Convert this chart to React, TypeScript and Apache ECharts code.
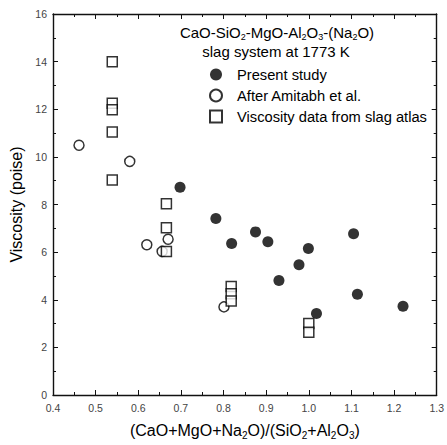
import React, { useEffect, useRef } from "react";
import * as echarts from "echarts";

const FONT = "'Liberation Sans', Arial, sans-serif";

// Present study (filled circles): [ratio, viscosity]
const presentStudy: [number, number][] = [
  [0.698, 8.72], [0.782, 7.41], [0.819, 6.36], [0.875, 6.85], [0.904, 6.44],
  [0.930, 4.81], [0.977, 5.47], [0.999, 6.15], [1.018, 3.42], [1.105, 6.77],
  [1.114, 4.23], [1.221, 3.73],
];
// After Amitabh et al. (open circles)
const amitabh: [number, number][] = [
  [0.461, 10.49], [0.580, 9.81], [0.620, 6.31], [0.670, 6.54], [0.656, 6.03], [0.801, 3.70],
];
// Viscosity data from slag atlas (open squares)
const slagAtlas: [number, number][] = [
  [0.539, 14.0], [0.539, 12.25], [0.539, 11.98], [0.539, 11.04], [0.539, 9.03],
  [0.666, 8.03], [0.666, 7.02], [0.666, 6.03],
  [0.818, 4.56], [0.818, 4.25], [0.818, 3.95],
  [1.0, 3.0], [1.0, 2.63],
];

const seriesNames = ["Present study", "After Amitabh et al.", "Viscosity data from slag atlas"];
const titleLine1 = "CaO-SiO{sub|2}-MgO-Al{sub|2}O{sub|3}-(Na{sub|2}O)";
const titleLine2 = "slag system at 1773 K";
const xName = "(CaO+MgO+Na{sub|2}O)/(SiO{sub|2}+Al{sub|2}O{sub|3})";
const yName = "Viscosity (poise)";

export default function App() {
  const ref = useRef<HTMLDivElement>(null);
  useEffect(() => {
    document.body.style.margin = "0";
    const chart = echarts.init(ref.current!, null, { renderer: "svg" });
    const axisCommon = {
      axisLine: { show: true, onZero: false, lineStyle: { color: "#111", width: 1.4 } },
      axisTick: { show: true, inside: true, length: 5, lineStyle: { color: "#111", width: 1 } },
      minorTick: { show: true, splitNumber: 2, length: 3, lineStyle: { color: "#111", width: 1 } },
      splitLine: { show: false },
    };
    chart.setOption({
      animation: false,
      backgroundColor: "#fff",
      grid: { left: 53, right: 8, top: 14, bottom: 46 },
      xAxis: [
        {
          type: "value", min: 0.4, max: 1.3, interval: 0.1, position: "bottom",
          ...axisCommon,
          axisLabel: { fontSize: 10.5, color: "#444", fontFamily: FONT, margin: 7, formatter: (v: number) => v.toFixed(1) },
          name: xName, nameLocation: "middle", nameGap: 27,
          nameTextStyle: {
            fontSize: 16, fontFamily: FONT, color: "#000", lineHeight: 16,
            rich: { sub: { fontSize: 10, fontFamily: FONT, color: "#000", padding: [10, 0, 0, 0] } },
          },
        },
        {
          type: "value", min: 0.4, max: 1.3, interval: 0.1, position: "top",
          ...axisCommon, axisLabel: { show: false },
        },
      ],
      yAxis: [
        {
          type: "value", min: 0, max: 16, interval: 2, position: "left",
          ...axisCommon,
          axisLabel: { fontSize: 10.5, color: "#444", fontFamily: FONT, margin: 6 },
          name: yName, nameLocation: "middle", nameGap: 28,
          nameTextStyle: { fontSize: 16, fontFamily: FONT, color: "#000" },
        },
        {
          type: "value", min: 0, max: 16, interval: 2, position: "right",
          ...axisCommon, axisLabel: { show: false },
        },
      ],
      legend: {
        orient: "vertical", left: 209, top: 67, padding: 0,
        itemWidth: 12, itemHeight: 12, itemGap: 6,
        textStyle: { fontSize: 14.7, fontFamily: FONT, color: "#000", padding: [0, 0, 0, 10] },
        data: seriesNames,
      },
      graphic: [
        {
          type: "text", x: 277, y: 32.5,
          style: {
            text: titleLine1, font: `15px ${FONT}`, fill: "#000", lineHeight: 16,
            align: "center", verticalAlign: "middle",
            rich: { sub: { fontSize: 9, fontFamily: FONT, fill: "#000", padding: [9, 0, 0, 0] } } as any,
          },
        },
        {
          type: "text", x: 276, y: 51,
          style: { text: titleLine2, font: `15px ${FONT}`, fill: "#000", align: "center", verticalAlign: "middle", lineHeight: 13 },
        },
      ],
      series: [
        {
          name: seriesNames[0], type: "scatter", data: presentStudy, symbol: "circle", symbolSize: 11,
          itemStyle: { color: "#000" },
        },
        {
          name: seriesNames[1], type: "scatter", data: amitabh, symbol: "circle", symbolSize: 10,
          itemStyle: { color: "#fff", borderColor: "#000", borderWidth: 1.5 },
        },
        {
          name: seriesNames[2], type: "scatter", data: slagAtlas, symbol: "rect", symbolSize: 10,
          itemStyle: { color: "#fff", borderColor: "#000", borderWidth: 1.5 },
        },
      ],
    });
    return () => chart.dispose();
  }, []);
  return <div ref={ref} style={{ width: 447, height: 445 }} />;
}
